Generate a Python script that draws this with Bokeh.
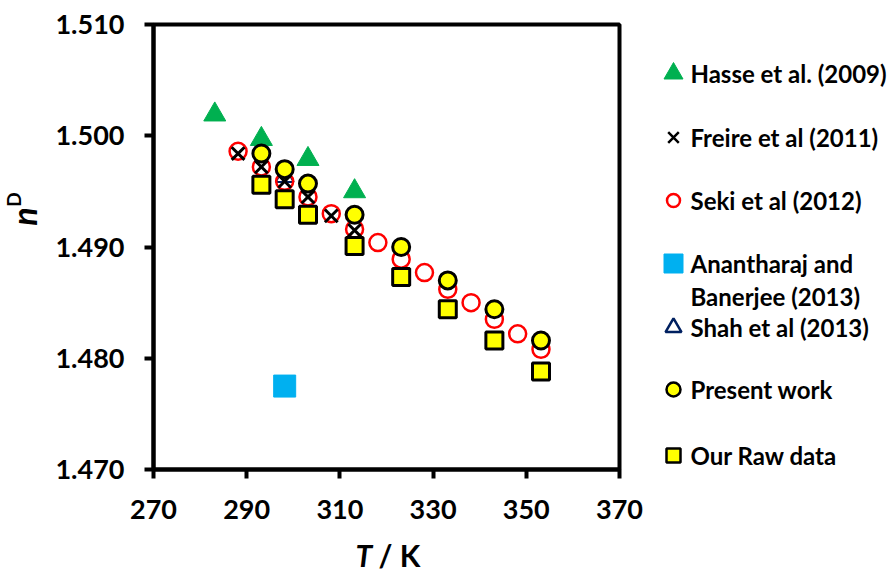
import math
from bokeh.plotting import figure
from bokeh.layouts import row, column
from bokeh.models import Range1d, FixedTicker, PrintfTickFormatter
from bokeh.core.properties import value
from bokeh.embed import file_html
from bokeh.resources import INLINE

# ---------------- data ----------------
hasse_T = [283.15, 293.15, 303.15, 313.15]
hasse_n = [1.5019, 1.4997, 1.4979, 1.4950]

freire_T = [288.15, 293.15, 298.15, 303.15, 308.15, 313.15]
freire_n = [1.4984, 1.4972, 1.4959, 1.4945, 1.4928, 1.4915]

seki_T = [288.15, 293.15, 298.15, 303.15, 308.15, 313.15, 318.15,
          323.15, 328.15, 333.15, 338.15, 343.15, 348.15, 353.15]
seki_n = [1.4986, 1.4972, 1.4959, 1.4945, 1.4930, 1.4916, 1.4904,
          1.4889, 1.4877, 1.4862, 1.4850, 1.4835, 1.4822, 1.4808]

anan_T = [298.15]
anan_n = [1.4775]

shah_T = [298.15]
shah_n = [1.4963]

present_T = [293.15, 298.15, 303.15, 313.15, 323.15, 333.15, 343.15, 353.15]
present_n = [1.4984, 1.4970, 1.4957, 1.4929, 1.4900, 1.4870, 1.4844, 1.4816]

raw_T = [293.15, 298.15, 303.15, 313.15, 323.15, 333.15, 343.15, 353.15]
raw_n = [1.4956, 1.4943, 1.4929, 1.4901, 1.4873, 1.4844, 1.4816, 1.4788]

x_ticks = [270, 290, 310, 330, 350, 370]
y_ticks = [1.470, 1.480, 1.490, 1.500, 1.510]

legend_labels = ["Hasse et al. (2009)", "Freire et al (2011)", "Seki et al (2012)",
                 "Anantharaj and\nBanerjee (2013)", "Shah et al (2013)",
                 "Present work", "Our Raw data"]

x_title_parts = ["T", "/ K"]
y_title_parts = ["n", "D"]

# ---------------- layout constants (pixels) ----------------
W, H = 896, 574
H_TOP = 530                 # height of the row holding the chart
W_YT = 45                   # width of the y-title strip
W_MAIN = 650 - W_YT         # main chart figure width
W_LEG = W - 650             # legend panel width
FL, FR, FT, FB = 153, 619, 24, 469   # frame edges in page pixels
XMIN, XMAX = 270, 370
YMIN, YMAX = 1.470, 1.510
FONT = "Lato"


def blank_fig(width, height, xr, yr, **borders):
    f = figure(width=width, height=height, output_backend="svg",
               toolbar_location=None, x_range=Range1d(*xr), y_range=Range1d(*yr),
               x_axis_type=None, y_axis_type=None, **borders)
    f.outline_line_color = None
    f.grid.visible = False
    f.background_fill_color = "white"
    f.border_fill_color = "white"
    return f


# ---------------- main chart ----------------
p = figure(width=W_MAIN, height=H_TOP, output_backend="svg", toolbar_location=None,
           x_range=Range1d(XMIN, XMAX), y_range=Range1d(YMIN, YMAX),
           min_border_left=FL - W_YT, min_border_right=650 - FR,
           min_border_top=FT, min_border_bottom=H_TOP - FB)
p.background_fill_color = "white"
p.border_fill_color = "white"
p.outline_line_color = "black"
p.outline_line_width = 4
p.grid.visible = False

for ax in (p.xaxis[0], p.yaxis[0]):
    ax.axis_line_width = 4
    ax.axis_line_color = "black"
    ax.major_tick_line_width = 4
    ax.major_tick_line_color = "black"
    ax.major_tick_in = 0
    ax.major_tick_out = 9
    ax.minor_tick_line_color = None
    ax.major_label_text_font = FONT
    ax.major_label_text_font_style = "bold"
    ax.major_label_text_font_size = "27px"
    ax.major_label_text_color = "black"

p.xaxis.ticker = FixedTicker(ticks=x_ticks)
p.yaxis.ticker = FixedTicker(ticks=y_ticks)
p.yaxis.formatter = PrintfTickFormatter(format="%.3f")
p.xaxis.major_label_standoff = 21
p.yaxis.major_label_standoff = 20

p.scatter(hasse_T, hasse_n, marker="triangle", size=22,
          fill_color="#00B050", line_color="#00B050")
p.scatter(shah_T, shah_n, marker="triangle", size=18,
          fill_color=None, line_color="#002060", line_width=2)
p.scatter(seki_T, seki_n, marker="circle", size=17,
          fill_color=None, line_color="#FF0000", line_width=2.5)
p.scatter(freire_T, freire_n, marker="x", size=18,
          line_color="black", line_width=3)
p.scatter(anan_T, anan_n, marker="square", size=22,
          fill_color="#00B0F0", line_color="#00B0F0", line_width=1)
p.scatter(present_T, present_n, marker="circle", size=17,
          fill_color="#FFFF00", line_color="black", line_width=3)
p.scatter(raw_T, raw_n, marker="square", size=17,
          fill_color="#FFFF00", line_color="black", line_width=3)

# ---------------- y-title strip (pixel coordinates) ----------------
yt = blank_fig(W_YT, H_TOP, (0, W_YT), (FB, FT),
               min_border_left=0, min_border_right=0,
               min_border_top=FT, min_border_bottom=H_TOP - FB)
yt.text(x=[23], y=[216], text=[y_title_parts[0]], text_font=value(FONT),
        text_font_style="bold italic", text_font_size="34px", angle=math.pi / 2,
        text_align="center", text_baseline="middle", text_color="black")
yt.text(x=[13], y=[199], text=[y_title_parts[1]], text_font=value(FONT),
        text_font_style="bold", text_font_size="19px", angle=math.pi / 2,
        text_align="center", text_baseline="middle", text_color="black")

# ---------------- legend panel (pixel coordinates) ----------------
q = blank_fig(W_LEG, H_TOP, (0, W_LEG), (FB, FT),
              min_border_left=0, min_border_right=0,
              min_border_top=FT, min_border_bottom=H_TOP - FB)

mk_x = 673 - 650
tx_x = 690 - 650
rows_y = [73, 137, 200, 263, 327, 389, 455]

q.scatter([mk_x], [rows_y[0]], marker="triangle", size=19,
          fill_color="#00B050", line_color="#00B050")
q.scatter([mk_x], [rows_y[1]], marker="x", size=15,
          line_color="black", line_width=2.5)
q.scatter([mk_x], [rows_y[2]], marker="circle", size=13,
          fill_color=None, line_color="#FF0000", line_width=2.5)
q.scatter([mk_x], [rows_y[3]], marker="square", size=19,
          fill_color="#00B0F0", line_color="#00B0F0", line_width=1)
q.scatter([mk_x], [rows_y[4]], marker="triangle", size=16,
          fill_color=None, line_color="#002060", line_width=2.5)
q.scatter([mk_x], [rows_y[5]], marker="circle", size=14,
          fill_color="#FFFF00", line_color="black", line_width=2.5)
q.scatter([mk_x], [rows_y[6]], marker="square", size=14,
          fill_color="#FFFF00", line_color="black", line_width=2.5)

text_rows = []
for lab, yy in zip(legend_labels, rows_y):
    for k, ln in enumerate(lab.split("\n")):
        text_rows.append((ln, yy + k * 33))
q.text(x=[tx_x] * len(text_rows), y=[t[1] for t in text_rows],
       text=[t[0] for t in text_rows], text_font=value(FONT),
       text_font_size="24px", text_font_style="bold",
       text_align="left", text_baseline="middle", text_color="black")

# ---------------- x-title strip (pixel coordinates) ----------------
xt = blank_fig(W, H - H_TOP, (0, W), (H, H_TOP),
               min_border_left=0, min_border_right=0,
               min_border_top=0, min_border_bottom=0)
xt.text(x=[355], y=[554], text=[x_title_parts[0]], text_font=value(FONT),
        text_font_style="bold italic", text_font_size="30px",
        text_align="left", text_baseline="middle", text_color="black")
xt.text(x=[378], y=[554], text=[x_title_parts[1]], text_font=value(FONT),
        text_font_style="bold", text_font_size="30px",
        text_align="left", text_baseline="middle", text_color="black")

layout = column(row(yt, p, q), xt)
open("out.html", "w").write(file_html(layout, INLINE))
